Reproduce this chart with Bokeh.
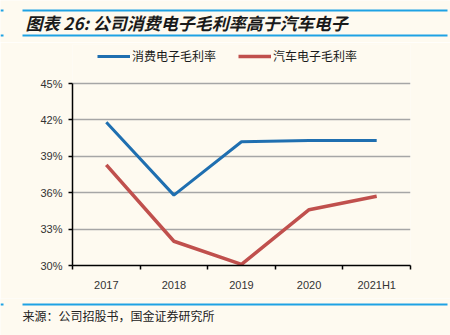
from bokeh.plotting import figure
from bokeh.layouts import column, row
from bokeh.models import (ColumnDataSource, FixedTicker, PrintfTickFormatter, Label,
                          Legend, LegendItem, Range1d)
from bokeh.embed import file_html
from bokeh.resources import INLINE

categories = ["2017", "2018", "2019", "2020", "2021H1"]
consumer = [41.8, 35.8, 40.2, 40.3, 40.3]
auto = [38.3, 32.0, 30.1, 34.6, 35.7]
y_ticks = [30, 33, 36, 39, 42, 45]
series_names = ["消费电子毛利率", "汽车电子毛利率"]
title_text = "图表 26: 公司消费电子毛利率高于汽车电子"
source_text = "来源：公司招股书，国金证券研究所"

BG = "#FEFAF0"
BLUE = "#1F6FB0"
RED = "#C0504D"
RULE = "#1EA2E4"
CJK = "Noto Sans CJK SC"

W = 450
TOP_H, MAIN_H, BOT_H = 42, 256, 37


def blank_fig(h):
    f = figure(width=W, height=h, output_backend="svg", toolbar_location=None,
               x_range=Range1d(0, W), y_range=Range1d(h, 0),
               min_border=0, min_border_left=0, min_border_right=0,
               min_border_top=0, min_border_bottom=0)
    f.axis.visible = False
    f.grid.visible = False
    f.background_fill_color = BG
    f.border_fill_color = BG
    f.outline_line_color = None
    return f


def rule(f, y):
    f.segment(x0=[0, 22], x1=[3, 447], y0=[y, y], y1=[y, y],
              line_color=RULE, line_width=2)


# ---- top: title and rules
top = blank_fig(TOP_H)
rule(top, 10)
rule(top, 35)
top.add_layout(Label(x=25, y=22, text=title_text, text_font=CJK,
                     text_font_style="bold italic", text_font_size="17px",
                     text_color="#1a1a1a", text_baseline="middle"))

# ---- main chart (frame extended upward to hold the legend; axis bounded)
FL, FR = 72, 410
FRAME_TOP, DATA_TOP, FRAME_BOTTOM = 2, 41, 223  # local px
Y0, Y1 = 30, 45
px_per = (FRAME_BOTTOM - DATA_TOP) / (Y1 - Y0)
y_end = Y1 + (DATA_TOP - FRAME_TOP) / px_per

xs = [i + 0.5 for i in range(len(categories))]
src = ColumnDataSource(dict(x=xs, consumer=consumer, auto=auto))

p = figure(width=W, height=MAIN_H, output_backend="svg", toolbar_location=None,
           x_range=Range1d(0, len(categories)), y_range=Range1d(Y0, y_end),
           min_border_left=FL, min_border_right=W - FR,
           min_border_top=FRAME_TOP, min_border_bottom=MAIN_H - FRAME_BOTTOM)
p.background_fill_color = BG
p.border_fill_color = BG
p.outline_line_color = None

r1 = p.line("x", "consumer", source=src, line_color=BLUE, line_width=3)
r2 = p.line("x", "auto", source=src, line_color=RED, line_width=3.5)

p.xaxis.ticker = FixedTicker(ticks=xs, minor_ticks=list(range(len(categories) + 1)))
p.xaxis.major_label_overrides = {x: c for x, c in zip(xs, categories)}
p.xaxis.major_tick_line_color = None
p.xaxis.major_tick_in = 0
p.xaxis.major_tick_out = 0
p.xaxis.minor_tick_in = 0
p.xaxis.minor_tick_out = 4
p.xaxis.minor_tick_line_color = "#000000"
p.xaxis.minor_tick_line_width = 1.5
p.xaxis.major_label_standoff = 9

p.yaxis.ticker = FixedTicker(ticks=y_ticks, minor_ticks=[])
p.yaxis.formatter = PrintfTickFormatter(format="%d%%")
p.yaxis.bounds = (Y0, Y1)
p.yaxis.major_tick_in = 0
p.yaxis.major_tick_out = 4
p.yaxis.major_tick_line_width = 1.5
p.yaxis.major_label_standoff = 6

for ax in (p.xaxis, p.yaxis):
    ax.axis_line_color = "#000000"
    ax.axis_line_width = 1.5
    ax.major_label_text_font = "Liberation Sans"
    ax.major_label_text_font_size = "11px"
    ax.major_label_text_color = "#333333"

p.xgrid.grid_line_color = None
p.ygrid.grid_line_color = "#A6A6A6"
p.ygrid.grid_line_width = 1.5

legend = Legend(items=[LegendItem(label=series_names[0], renderers=[r1]),
                       LegendItem(label=series_names[1], renderers=[r2])],
                orientation="horizontal",
                location=(25, FRAME_BOTTOM - 13 - 7 - FRAME_TOP),
                glyph_width=33, glyph_height=14, label_height=14,
                label_standoff=2, spacing=22, padding=0, margin=0,
                border_line_color=None, background_fill_alpha=0,
                label_text_font=CJK, label_text_font_size="12px",
                label_text_color="#1a1a1a")
p.add_layout(legend, "center")

# ---- bottom: rule and source
bot = blank_fig(BOT_H)
rule(bot, 6)
bot.add_layout(Label(x=22, y=17, text=source_text, text_font=CJK,
                     text_font_size="12px", text_color="#222222",
                     text_baseline="middle"))

layout = column(row(top, spacing=0), p, row(bot, spacing=0), spacing=0)
open("out.html", "w").write(file_html(layout, INLINE))
